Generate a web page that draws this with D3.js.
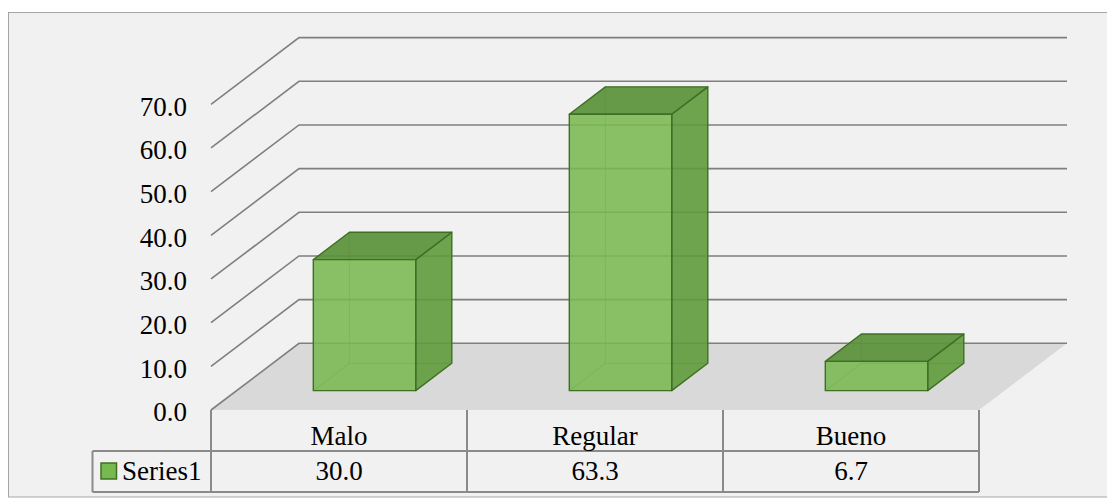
<!DOCTYPE html>
<html>
<head>
<meta charset="utf-8">
<script src="https://cdn.jsdelivr.net/npm/d3@7"></script>
</head>
<body style="margin:0">
<svg id="chart" width="1107" height="498"></svg>
<script>
// Chart data
const categories = ["Malo", "Regular", "Bueno"];
const seriesName = "Series1";
const values = [30.0, 63.3, 6.7];
const tickValues = [0, 10, 20, 30, 40, 50, 60, 70];

const FONT = "Tinos, 'Liberation Serif', 'Times New Roman', FreeSerif, serif";
const svg = d3.select("#chart");
const W = 1107, H = 498;

// serif text helper
function label(parent, str) {
  return parent.append("text")
    .attr("font-size", 27)
    .attr("font-family", FONT)
    .style("font-family", FONT)
    .attr("fill", "#000")
    .text(str);
}

// Plot geometry (front plane of the 3D box)
const plotLeft = 211, plotRight = 979, plotBase = 410, plotTop = 104.3;
const depthX = 88, depthY = -66.7;          // full floor depth offset
const barFront = 0.29, barBack = 0.70;       // bar depth range (fraction of floor depth)
const barFrac = 0.4;                         // bar width as fraction of band

const x = d3.scaleBand().domain(categories).range([plotLeft, plotRight]).paddingInner(0).paddingOuter(0);
const y = d3.scaleLinear().domain([0, 70]).range([plotBase, plotTop]);

// project (horizontal px on front plane, value, depth fraction) to screen
function P(px, v, d) { return [px + d * depthX, y(v) + d * depthY]; }

// Chart area background and frame
svg.append("rect").attr("x", 0).attr("y", 0).attr("width", W).attr("height", H).attr("fill", "#ffffff");
svg.append("rect")
  .attr("x", 8.5).attr("y", 12.5).attr("width", 1110).attr("height", 484.5)
  .attr("fill", "#f1f1f1").attr("stroke", "#a6a6a6").attr("stroke-width", 1);

// Floor
const floor = [P(plotLeft, 0, 0), P(plotLeft, 0, 1), P(plotRight, 0, 1), P(plotRight, 0, 0)];
svg.append("path")
  .attr("d", "M" + floor.join("L") + "Z")
  .attr("fill", "#d9d9d9");

// Gridlines: diagonal on the left side wall and horizontal on the back wall
const grid = svg.append("g").attr("stroke", "#7f7f7f").attr("stroke-width", 1.6).attr("fill", "none");
tickValues.forEach(t => {
  const a = P(plotLeft, t, 0), b = P(plotLeft, t, 1), c = P(plotRight, t, 1);
  grid.append("path").attr("d", `M${a}L${b}L${c}`);
});

// Value axis labels, placed with the axis generator
const yAxis = d3.axisLeft(y).tickValues(tickValues).tickFormat(d3.format(".1f")).tickSize(0).tickPadding(24);
const ag = svg.append("g").attr("transform", `translate(${plotLeft},0)`).call(yAxis);
ag.select(".domain").remove();
ag.attr("font-family", FONT).attr("font-size", 27);
ag.selectAll("text")
  .attr("font-family", FONT)
  .style("font-family", FONT)
  .attr("font-size", 27).attr("fill", "#000").attr("dy", "0.40em");

// 3D bars
const bw = x.bandwidth() * barFrac;
const bars = svg.append("g");
categories.forEach((c, i) => {
  const v = values[i];
  const x0 = x(c) + (x.bandwidth() - bw) / 2, x1 = x0 + bw;
  const f = barFront, k = barBack;
  const g = bars.append("g");
  const poly = (pts, fill, op) => g.append("path")
    .attr("d", "M" + pts.join("L") + "Z")
    .attr("fill", fill).attr("fill-opacity", op)
    .attr("stroke", "#3f6f24").attr("stroke-width", 1.4).attr("stroke-linejoin", "round");
  // hidden back edges, seen through the translucent faces
  const hidden = g.append("g").attr("stroke", "#4f8a2f").attr("stroke-opacity", 0.55).attr("stroke-width", 1.2).attr("fill", "none");
  hidden.append("path").attr("d", `M${P(x0, 0, f)}L${P(x0, 0, k)}L${P(x1, 0, k)}`);
  hidden.append("path").attr("d", `M${P(x0, 0, k)}L${P(x0, v, k)}`);
  // right side face
  poly([P(x1, 0, f), P(x1, 0, k), P(x1, v, k), P(x1, v, f)], "#5e9b3b", 0.9);
  // top face
  poly([P(x0, v, f), P(x0, v, k), P(x1, v, k), P(x1, v, f)], "#5a9139", 0.92);
  // front face
  poly([P(x0, 0, f), P(x1, 0, f), P(x1, v, f), P(x0, v, f)], "#7ab852", 0.88);
});

// Data table under the plot
const rowH = 41, row1 = plotBase, row2 = plotBase + rowH, row3 = plotBase + 2 * rowH, legendLeft = 92.5;
const tbl = svg.append("g").attr("stroke", "#8a8a8a").attr("stroke-width", 2).attr("fill", "none");
tbl.append("path").attr("d", `M${plotLeft},${row1}V${row3}`);
categories.forEach(c => {
  tbl.append("path").attr("d", `M${x(c) + x.bandwidth()},${row1}V${row3}`);
});
tbl.append("path").attr("d", `M${legendLeft},${row2}H${plotRight}`);
tbl.append("path").attr("d", `M${legendLeft},${row3}H${plotRight}`);
tbl.append("path").attr("d", `M${legendLeft},${row2}V${row3}`);

const txt = svg.append("g");
categories.forEach((c, i) => {
  const cx = x(c) + x.bandwidth() / 2;
  label(txt, c).attr("x", cx).attr("y", row1 + 35).attr("text-anchor", "middle");
  label(txt, d3.format(".1f")(values[i])).attr("x", cx).attr("y", row2 + 29).attr("text-anchor", "middle");
});

// Legend key and series name
svg.append("rect").attr("x", 101).attr("y", 463).attr("width", 15.5).attr("height", 16)
  .attr("fill", "#78b850").attr("stroke", "#3f6f24").attr("stroke-width", 1.5);
label(svg, seriesName).attr("x", 122).attr("y", row2 + 29);
</script>
</body>
</html>
